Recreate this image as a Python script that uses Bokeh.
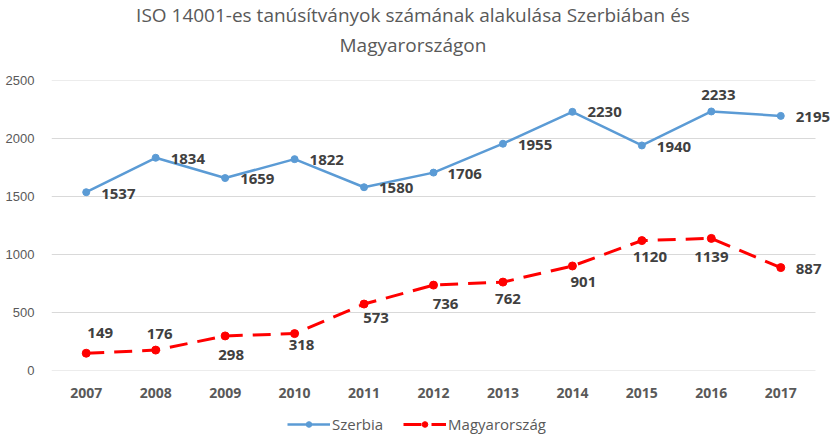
from bokeh.plotting import figure
from bokeh.layouts import column
from bokeh.models import (ColumnDataSource, Range1d, FixedTicker, LabelSet, Div,
                          Legend, LegendItem)
from bokeh.core.properties import value
from bokeh.embed import file_html
from bokeh.resources import INLINE

# ---- data ----
years = ["2007", "2008", "2009", "2010", "2011", "2012", "2013", "2014", "2015", "2016", "2017"]
szerbia = [1537, 1834, 1659, 1822, 1580, 1706, 1955, 2230, 1940, 2233, 2195]
magyar = [149, 176, 298, 318, 573, 736, 762, 901, 1120, 1139, 887]
series_names = ["Szerbia", "Magyarország"]
title_lines = ["ISO 14001-es tanúsítványok számának alakulása Szerbiában és", "Magyarországon"]
y_ticks = [0, 500, 1000, 1500, 2000, 2500]

# ---- label placement styles (r = right of point, c = centred) ----
sz_place = ["r", "r", "r", "r", "r", "r", "r", "r", "r", "c", "r"]
sz_dx = [15, 15, 15, 15, 15, 14, 15, 15, 15, 7, 15]
sz_dy = [-2, -1, -1, -1, -1, -1, -1, 0, -2, 16, -1]
mg_place = ["c", "c", "c", "c", "c", "c", "c", "c", "c", "c", "r"]
mg_dx = [14, 4, 6, 7, 12, 12, 5, 11, 8, 0, 15]
mg_dy = [20, 16, -19, -11, -14, -19, -17, -16, -16, -19, -1]

BLUE = "#5B9BD5"
RED = "#FF0000"
GREY = "#595959"
LABEL_GREY = "#404040"
FONT = "Open Sans"

idx = list(range(len(years)))
n = len(years)
step_px = 764 / n            # width of one category slot in pixels
frame_px = 831 - 51
x_start = -0.5
x_end = x_start + frame_px / step_px

TITLE_H = 60
LEGEND_H = 26

title_div = Div(text="<br>".join(title_lines), width=831, height=TITLE_H, margin=0,
                styles={"font-family": FONT, "font-size": "19px", "color": GREY,
                        "line-height": "30px", "text-align": "center", "width": "826px",
                        "white-space": "nowrap"})

p = figure(frame_width=780, frame_height=290, x_range=Range1d(x_start, x_end),
           y_range=Range1d(0, 2500), output_backend="svg", toolbar_location=None,
           min_border_left=51, min_border_right=0, min_border_top=80 - TITLE_H,
           min_border_bottom=64 - LEGEND_H, margin=0)
p.outline_line_color = None
p.title.visible = False

p.xgrid.grid_line_color = None
p.ygrid.grid_line_color = None
p.segment(x0=x_start, x1=n - 0.5, y0=y_ticks, y1=y_ticks, line_color="#d9d9d9", line_width=1)

p.yaxis.ticker = FixedTicker(ticks=y_ticks)
p.yaxis.axis_line_color = None
p.yaxis.major_tick_line_color = None
p.yaxis.minor_tick_line_color = None
p.yaxis.major_label_text_font = "Liberation Sans"
p.yaxis.major_label_text_font_size = "13px"
p.yaxis.major_label_text_color = GREY
p.yaxis.major_label_standoff = 11

p.xaxis.ticker = FixedTicker(ticks=idx)
p.xaxis.major_label_overrides = {i: y for i, y in zip(idx, years)}
p.xaxis.axis_line_color = None
p.xaxis.major_tick_line_color = None
p.xaxis.minor_tick_line_color = None
p.xaxis.major_label_text_font = FONT
p.xaxis.major_label_text_font_style = "bold"
p.xaxis.major_label_text_font_size = "14px"
p.xaxis.major_label_text_color = GREY
p.xaxis.major_label_standoff = 11

src_s = ColumnDataSource(dict(x=idx, y=szerbia))
src_m = ColumnDataSource(dict(x=idx, y=magyar))

line_s = dict(line_color=BLUE, line_width=2.5)
dot_s = dict(size=7, color=BLUE)
line_m = dict(line_color=RED, line_width=3, line_dash="18 10")
dot_m = dict(size=8, color=RED)

p.line("x", "y", source=src_s, **line_s)
p.scatter("x", "y", source=src_s, **dot_s)
p.line("x", "y", source=src_m, **line_m)
p.scatter("x", "y", source=src_m, **dot_m)


def add_labels(vals, place, dxs, dys):
    for code, align in (("r", "left"), ("c", "center")):
        sel = [i for i, c in enumerate(place) if c == code]
        if not sel:
            continue
        src = ColumnDataSource(dict(
            x=[idx[i] for i in sel], y=[vals[i] for i in sel],
            t=[str(vals[i]) for i in sel],
            dx=[dxs[i] for i in sel], dy=[dys[i] for i in sel]))
        p.add_layout(LabelSet(x="x", y="y", text="t", source=src, x_offset="dx", y_offset="dy",
                              text_align=align, text_baseline="middle",
                              text_font=value(FONT), text_font_style="bold",
                              text_font_size="15px", text_color=LABEL_GREY))


add_labels(szerbia, sz_place, sz_dx, sz_dy)
add_labels(magyar, mg_place, mg_dx, mg_dy)

# legend strip: same series drawn out of view, only the legend is visible
lg = figure(width=831, height=LEGEND_H, x_range=Range1d(x_start, x_end), y_range=Range1d(-2, -1),
            output_backend="svg", toolbar_location=None, x_axis_type=None, y_axis_type=None,
            min_border=0, margin=0)
lg.outline_line_color = None
lg.title.visible = False
lg.grid.visible = False
r1 = lg.line("x", "y", source=src_s, **line_s)
r2 = lg.scatter("x", "y", source=src_s, **dot_s)
r3 = lg.line("x", "y", source=src_m, **line_m)
r4 = lg.scatter("x", "y", source=src_m, **dot_m)
legend = Legend(items=[LegendItem(label=series_names[0], renderers=[r1, r2]),
                       LegendItem(label=series_names[1], renderers=[r3, r4])],
                orientation="horizontal", border_line_color=None,
                background_fill_alpha=0, padding=0, margin=0, spacing=20, glyph_width=43,
                glyph_height=14, label_height=14, label_standoff=2, label_text_font=FONT,
                label_text_font_size="15px", label_text_color=GREY,
                location=(236, 0))
lg.add_layout(legend)

layout = column(title_div, p, lg, margin=0, spacing=0)
open("out.html", "w").write(file_html(layout, INLINE))
